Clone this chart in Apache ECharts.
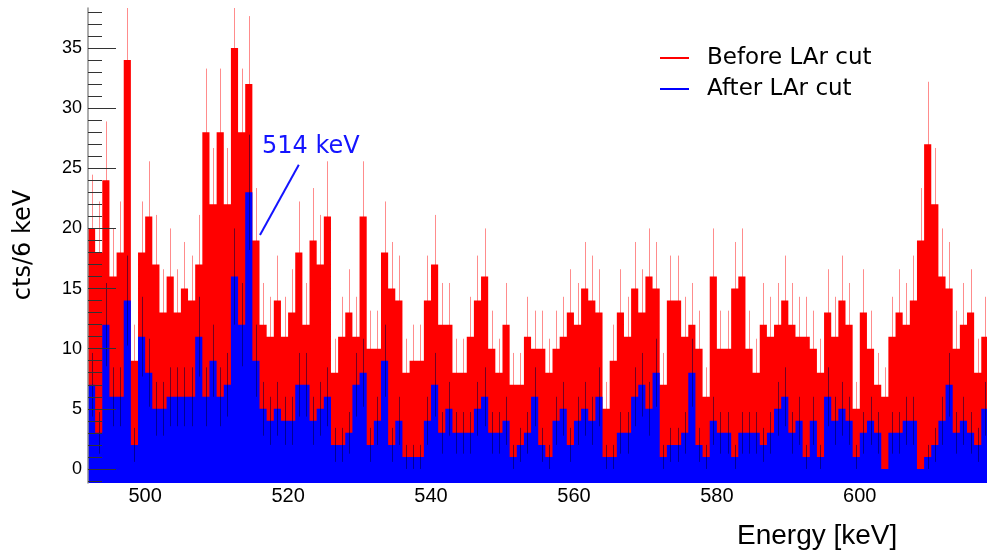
<!DOCTYPE html>
<html>
<head>
<meta charset="utf-8">
<script src="https://cdn.jsdelivr.net/npm/echarts@6/dist/echarts.min.js"></script>
<style>
html,body{margin:0;padding:0;background:#fff;}
#chart{width:987px;height:556px;}
</style>
</head>
<body>
<div id="chart"></div>
<script>
// Bin lower edges (keV), 1 keV bins
const binStart = 492;
// Counts before LAr cut (red)
const beforeCounts = [
  20,18,24,16,18,34,9,18,21,17,
  13,16,13,15,14,17,28,22,28,22,
  35,28,32,19,12,11,14,11,13,18,
  12,19,17,21,8,11,13,11,21,10,
  10,18,15,14,8,9,9,14,17,12,
  12,8,8,11,14,16,10,8,12,7,
  7,11,10,10,8,10,11,13,12,15,
  14,13,5,9,13,11,15,13,16,15,
  7,14,14,11,12,10,6,16,10,10,
  15,16,10,8,12,11,12,14,12,11,
  11,10,8,13,11,14,12,5,13,10,
  7,6,11,13,12,14,19,27,22,16,
  15,10,12,13,8,11
];
// Counts after LAr cut (blue)
const afterCounts = [
  7,3,12,6,6,14,2,11,8,5,
  5,6,6,6,6,11,6,9,6,7,
  16,12,23,9,5,4,5,4,4,7,
  7,4,5,6,2,2,3,7,8,2,
  4,9,2,4,1,1,1,4,7,3,
  5,3,3,3,5,6,3,3,4,1,
  2,3,6,2,1,4,5,2,4,5,
  4,6,1,1,3,3,6,7,5,8,
  1,2,2,3,8,2,1,4,3,3,
  1,3,3,3,2,3,5,6,3,4,
  1,4,1,6,4,5,4,1,3,4,
  3,0,3,3,4,4,0,1,2,4,
  7,3,4,3,2,5
];
const seriesNames = ['Before LAr cut', 'After LAr cut'];
const xTickLabels = [500, 520, 540, 560, 580, 600];
const yTickLabels = [0, 5, 10, 15, 20, 25, 30, 35];
const yMinorTicks = [];
for (let v = -1; v <= 38; v++) { if (v % 5 !== 0) yMinorTicks.push(v); }

const xMin = 492, xMax = 617.8;
const yMin = -1.17, yMax = 38.33;

function stepData(counts) {
  const d = counts.map((c, i) => [binStart + i, c]);
  d.push([binStart + counts.length, counts[counts.length - 1]]);
  return d;
}
function errData(counts) {
  return counts.map((c, i) => [binStart + i + 0.5, c]);
}
function errRender(color) {
  return function (params, api) {
    const x = api.value(0), v = api.value(1);
    if (!(v > 0)) return null;
    const e = Math.sqrt(v);
    const p1 = api.coord([x, v - e]);
    const p2 = api.coord([x, v + e]);
    const px = Math.round(p1[0]) + 0.5;
    return {
      type: 'line',
      shape: { x1: px, y1: p1[1], x2: px, y2: p2[1] },
      style: { stroke: color, lineWidth: 1 }
    };
  };
}

const chart = echarts.init(document.getElementById('chart'), null, { renderer: 'canvas' });
const option = {
  animation: false,
  backgroundColor: '#ffffff',
  grid: { left: 88, right: 0, top: 8, bottom: 73, containLabel: false },
  legend: {
    orient: 'vertical',
    left: 660,
    top: 45,
    padding: 0,
    itemGap: 5,
    icon: 'rect',
    itemWidth: 29,
    itemHeight: 2,
    data: [
      { name: seriesNames[0], itemStyle: { color: '#ff0000' } },
      { name: seriesNames[1], itemStyle: { color: '#0000ff' } }
    ],
    textStyle: { fontFamily: 'DejaVu Sans', fontSize: 23, color: '#000', lineHeight: 26, padding: [0, 0, 0, 13] },
    selectedMode: false
  },
  xAxis: [
    {
      type: 'value', min: xMin, max: xMax, position: 'bottom',
      axisLine: { show: false }, axisTick: { show: false }, splitLine: { show: false },
      axisLabel: {
        customValues: xTickLabels, fontFamily: 'Liberation Sans', fontSize: 20, color: '#000', margin: 3
      }
    },
    {
      type: 'value', min: xMin, max: xMax, position: 'top',
      axisLine: { show: true, lineStyle: { color: '#a8a8a8', width: 1.5 } },
      axisTick: { show: false }, axisLabel: { show: false }, splitLine: { show: false }
    }
  ],
  yAxis: [
    {
      type: 'value', min: yMin, max: yMax, position: 'left', z: 10,
      axisLine: { show: true, lineStyle: { color: '#909090', width: 1.5 } },
      axisTick: { show: true, inside: true, length: 28, customValues: yTickLabels, lineStyle: { color: '#333', width: 1 } },
      axisLabel: { customValues: yTickLabels, fontFamily: 'Liberation Sans', fontSize: 18, color: '#000', margin: 6 },
      splitLine: { show: false }
    },
    {
      type: 'value', min: yMin, max: yMax, position: 'left', z: 10,
      axisLine: { show: false },
      axisTick: { show: true, inside: true, length: 14, customValues: yMinorTicks, lineStyle: { color: '#333', width: 1 } },
      axisLabel: { show: false },
      splitLine: { show: false }
    }
  ],
  series: [
    {
      name: seriesNames[0], type: 'line', step: 'end', z: 2,
      data: stepData(beforeCounts), symbol: 'none', color: '#ff0000',
      lineStyle: { width: 0, opacity: 0 },
      areaStyle: { color: '#ff0000', opacity: 1, origin: 'start' },
      emphasis: { disabled: true }, silent: true
    },
    {
      name: 'errBefore', type: 'custom', z: 3, clip: true,
      data: errData(beforeCounts), renderItem: errRender('rgba(255,0,0,0.45)'), silent: true
    },
    {
      name: seriesNames[1], type: 'line', step: 'end', z: 4,
      data: stepData(afterCounts), symbol: 'none', color: '#0000ff',
      lineStyle: { width: 0, opacity: 0 },
      areaStyle: { color: '#0000ff', opacity: 1, origin: 'start' },
      emphasis: { disabled: true }, silent: true
    },
    {
      name: 'errAfter', type: 'custom', z: 5, clip: true,
      data: errData(afterCounts), renderItem: errRender('rgba(0,0,60,0.55)'), silent: true
    }
  ]
};
chart.setOption(option);

// Annotation positioned in data space
const pText = chart.convertToPixel({ gridIndex: 0 }, [516.35, 26.75]);
const pA = chart.convertToPixel({ gridIndex: 0 }, [521.5, 25.3]);
const pB = chart.convertToPixel({ gridIndex: 0 }, [516.07, 19.45]);
chart.setOption({
  graphic: [
    {
      type: 'text', x: pText[0], y: pText[1], z: 20,
      style: { text: '514 keV', fill: '#1414ff', font: '24px "DejaVu Sans"', align: 'left', verticalAlign: 'middle' }
    },
    {
      type: 'line', z: 20,
      shape: { x1: pA[0], y1: pA[1], x2: pB[0], y2: pB[1] },
      style: { stroke: '#1414ff', lineWidth: 2 }
    },
    {
      type: 'text', x: 24, y: 245, rotation: Math.PI / 2, z: 20,
      style: { text: 'cts/6 keV', fill: '#000', font: '24px "DejaVu Sans"', align: 'center', verticalAlign: 'middle' }
    },
    {
      type: 'text', x: 737, y: 550, z: 20,
      style: { text: 'Energy [keV]', fill: '#000', font: '28px "Liberation Sans"', align: 'left', verticalAlign: 'bottom' }
    }
  ]
});
</script>
</body>
</html>
